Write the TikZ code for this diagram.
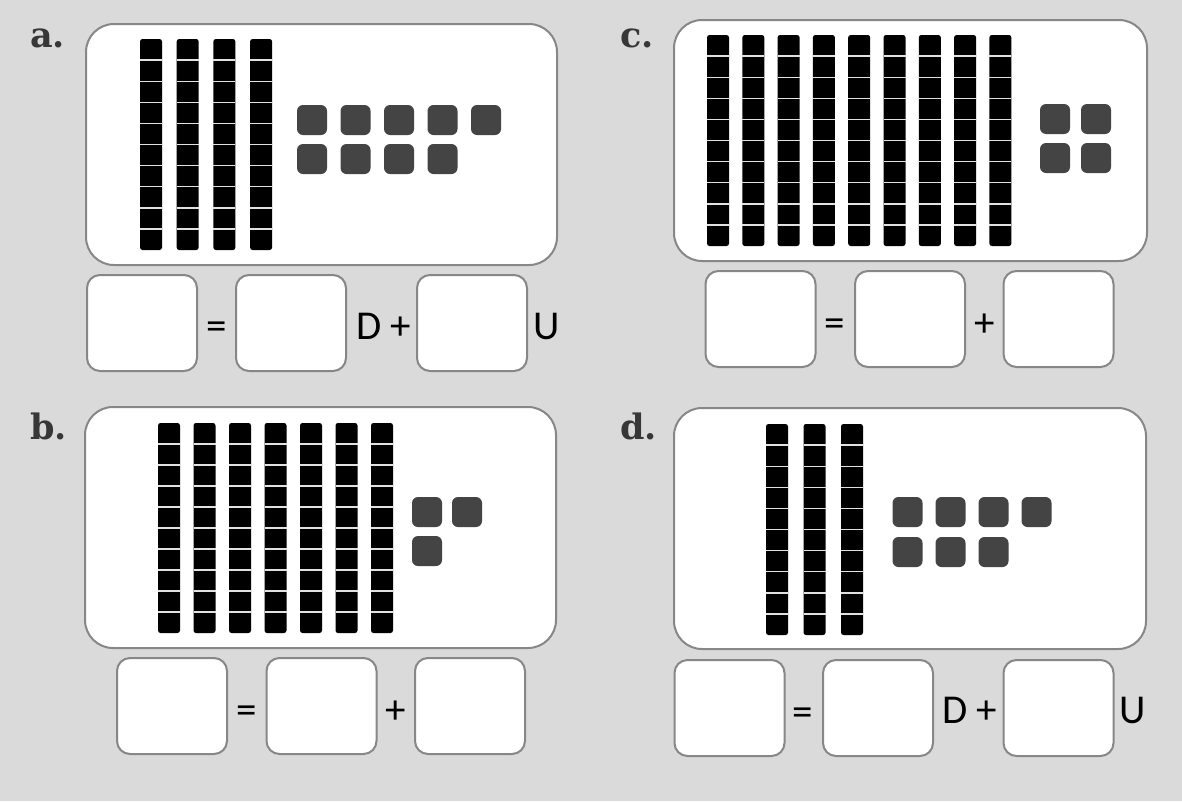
\documentclass[tikz,border=0pt]{standalone}
\usepackage{fontspec}
\newfontfamily\eqfont{Carlito}
\newfontfamily\labfont{DejaVu Serif}
\definecolor{bgc}{RGB}{218,218,218}
\definecolor{edgec}{RGB}{135,135,135}
\definecolor{unitc}{RGB}{68,68,68}
\definecolor{labc}{RGB}{55,55,55}
\definecolor{sepc}{RGB}{225,225,225}
\tikzset{
  card/.style={draw=edgec, line width=2pt, fill=white, rounded corners=28pt,
    minimum width=#1, minimum height=241pt, inner sep=0pt},
  ansbox/.style={draw=edgec, line width=2pt, fill=white, rounded corners=13pt,
    minimum width=110pt, minimum height=96pt, inner sep=0pt},
  eqtext/.style={font=\eqfont\fontsize{41}{41}\selectfont, text=black, inner sep=0pt},
  lab/.style={font=\labfont\bfseries\fontsize{35}{35}\selectfont, text=labc, inner sep=0pt, anchor=base west},
  sep/.style={draw=sepc, line width=1.4pt},
  unitsq/.style={fill=unitc, rounded corners=6pt}
}
\newcommand\rodset[5]{%
  \foreach \k in {1,...,#3}{%
    \pgfmathsetmacro\xx{#1+(\k-1)*#2}%
    \fill[black, rounded corners=2.5pt] (\xx,#4) rectangle ++(22,#5-#4);%
    \foreach \j in {1,...,9}{\draw[sep] (\xx,{#4+\j*(#5-#4)/10}) -- ++(22,0);}%
  }}
\newcommand\unitat[2]{\fill[unitsq] (#1,#2) rectangle ++(30,30);}
\begin{document}
\begin{tikzpicture}[x=1pt,y=-1pt]
\useasboundingbox (0,0) rectangle (1182,801);
\fill[bgc] (0,0) rectangle (1182,801);
% labels
\node[lab] (la) at (30,47) {a.};
\node[lab] (lb) at (30,439) {b.};
\node[lab] (lc) at (620,47) {c.};
\node[lab] (ld) at (620,439) {d.};
% cards
\node[card=471pt] (cardA) at (321.5,144.5) {};
\node[card=473pt] (cardC) at (910.5,140.5) {};
\node[card=471pt] (cardB) at (320.5,527.5) {};
\node[card=472pt] (cardD) at (910,528.5) {};
% rods
\rodset{140}{36.7}{4}{39}{250}
\rodset{707}{35.3}{9}{35}{246}
\rodset{158}{35.5}{7}{423}{633}
\rodset{766}{37.5}{3}{424}{635}
% units a
\foreach \i in {0,...,4}{\unitat{297+43.5*\i}{105}}
\foreach \i in {0,...,3}{\unitat{297+43.5*\i}{144}}
% units c
\unitat{1040}{104}\unitat{1081}{104}
\unitat{1040}{143}\unitat{1081}{143}
% units b
\unitat{412}{497}\unitat{452}{497}
\unitat{412}{536}
% units d
\foreach \i in {0,...,3}{\unitat{892.5+43*\i}{497}}
\foreach \i in {0,...,2}{\unitat{892.5+43*\i}{537}}
% answer boxes a
\node[ansbox] (a1) at (142,323) {};
\node[ansbox] (a2) at (291,323) {};
\node[ansbox] (a3) at (472,323) {};
\node[eqtext, anchor=base] (aeq) at (217,339) {=};
\node[eqtext, anchor=base west] (ad) at (356,339) {D +};
\node[eqtext, anchor=base] (au) at (547,339) {U};
% answer boxes c
\node[ansbox] (c1) at (760.5,319) {};
\node[ansbox] (c2) at (910,319) {};
\node[ansbox] (c3) at (1058.5,319) {};
\node[eqtext, anchor=base] (ceq) at (835,336) {=};
\node[eqtext, anchor=base] (cp) at (985,336) {+};
% answer boxes b
\node[ansbox] (b1) at (172,706) {};
\node[ansbox] (b2) at (321.5,706) {};
\node[ansbox] (b3) at (470,706) {};
\node[eqtext, anchor=base] (beq) at (247,723) {=};
\node[eqtext, anchor=base] (bp) at (396,723) {+};
% answer boxes d
\node[ansbox] (d1) at (729.5,708) {};
\node[ansbox] (d2) at (878,708) {};
\node[ansbox] (d3) at (1058.5,708) {};
\node[eqtext, anchor=base] (deq) at (803,725) {=};
\node[eqtext, anchor=base west] (dd) at (942,723) {D +};
\node[eqtext, anchor=base] (du) at (1133,723) {U};
\end{tikzpicture}
\end{document}
